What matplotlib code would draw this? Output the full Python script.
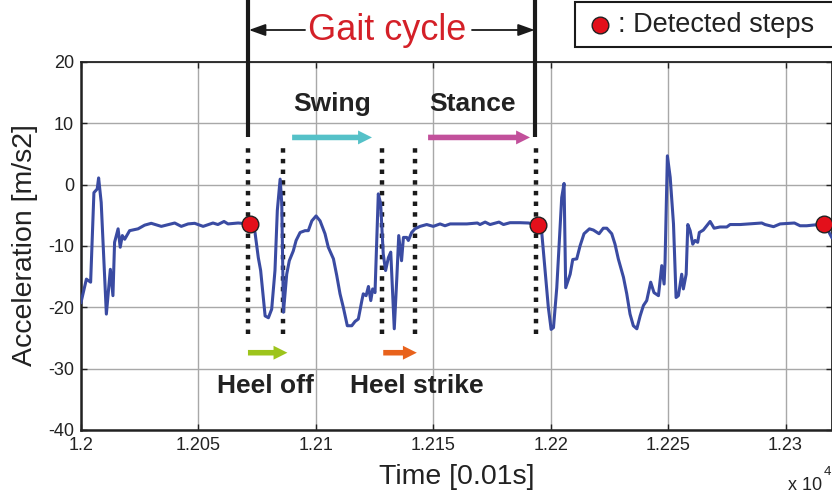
import matplotlib
matplotlib.use('Agg')
import matplotlib.pyplot as plt
from matplotlib.lines import Line2D
from matplotlib.patches import Rectangle

plt.rcParams['font.family'] = ['Liberation Sans', 'DejaVu Sans']
plt.rcParams['axes.unicode_minus'] = False

# acceleration trace (time in 0.01 s)
time = [12000.0, 12002.3, 12004.1, 12005.5, 12006.9, 12007.5, 12008.6, 12010.8, 12012.5, 12013.6,
        12014.3, 12015.8, 12016.7, 12017.6, 12018.6, 12020.7, 12024.3, 12027.1, 12029.9, 12034.2,
        12039.9, 12042.7, 12045.6, 12048.4, 12052.0, 12056.2, 12058.3, 12060.9, 12062.6, 12066.9,
        12071.5, 12074.1, 12075.5, 12076.5, 12078.4, 12079.8, 12081.2, 12082.6, 12083.6, 12084.8,
        12085.5, 12086.2, 12087.6, 12088.7, 12090.4, 12091.6, 12093.3, 12095.4, 12096.8, 12098.3,
        12100.1, 12101.8, 12103.9, 12105.3, 12107.5, 12108.9, 12110.3, 12111.7, 12113.4, 12115.3,
        12116.7, 12118.1, 12119.6, 12120.2, 12121.4, 12122.4, 12123.4, 12124.2, 12125.2, 12126.6,
        12127.6, 12128.7, 12129.7, 12130.9, 12131.9, 12133.4, 12134.5, 12135.3, 12136.5, 12137.3,
        12138.7, 12139.4, 12140.8, 12142.2, 12144.4, 12147.2, 12150.0, 12152.9, 12155.0, 12157.2,
        12164.3, 12168.8, 12169.9, 12172.1, 12174.2, 12178.0, 12179.9, 12182.7, 12187.0, 12190.5,
        12194.5, 12196.2, 12197.6, 12199.0, 12200.2, 12201.2, 12202.6, 12204.0, 12204.7, 12205.7,
        12206.4, 12208.3, 12209.4, 12211.1, 12212.5, 12214.2, 12216.5, 12218.2, 12220.6, 12222.4,
        12223.9, 12226.0, 12227.4, 12228.8, 12231.0, 12232.4, 12233.8, 12235.2, 12236.7, 12238.1,
        12239.5, 12240.9, 12242.6, 12244.0, 12245.9, 12247.3, 12248.3, 12248.7, 12249.7, 12250.9,
        12252.3, 12253.4, 12254.4, 12255.8, 12256.5, 12257.7, 12258.4, 12259.4, 12260.5, 12261.5,
        12262.6, 12263.3, 12265.0, 12267.9, 12269.6, 12272.1, 12275.0, 12276.4, 12280.7, 12289.9,
        12291.3, 12294.9, 12297.7, 12303.8, 12306.2, 12309.0, 12316.6, 12319.7]
acc = [-19.2, -15.4, -15.9, -1.3, -0.7, 1.1, -2.9, -21.1, -13.8, -18.1,
       -9.4, -7.2, -10.2, -8.3, -8.9, -7.5, -7.2, -6.6, -6.3, -6.8,
       -6.25, -6.8, -6.4, -6.3, -6.8, -6.25, -6.5, -6.0, -6.4, -6.25,
       -6.4, -7.8, -11.9, -14.0, -21.4, -21.7, -20.3, -14.0, -4.2, 0.9,
       -3.1, -20.8, -14.6, -12.4, -10.8, -9.1, -7.8, -7.5, -7.5, -5.9,
       -5.1, -5.9, -8.0, -10.2, -12.1, -14.8, -17.8, -20.0, -23.0, -23.0,
       -22.3, -21.9, -18.9, -17.8, -18.1, -16.6, -18.9, -17.0, -17.6, -1.5,
       -3.1, -11.3, -14.0, -11.9, -11.0, -23.5, -15.1, -8.3, -12.4, -8.6,
       -8.6, -9.1, -7.8, -7.2, -6.8, -6.5, -6.8, -6.4, -6.7, -6.4,
       -6.4, -6.25, -6.5, -6.1, -6.5, -6.1, -6.5, -6.2, -6.2, -6.25,
       -6.5, -7.8, -14.0, -20.0, -23.6, -23.3, -16.8, -7.0, -2.1, 0.2,
       -16.8, -14.6, -12.2, -12.1, -10.0, -8.0, -7.2, -7.4, -8.0, -7.1,
       -7.1, -8.0, -9.7, -12.1, -15.1, -17.8, -21.1, -23.0, -23.5, -21.4,
       -19.7, -18.9, -15.9, -17.6, -18.1, -13.2, -16.2, -12.7, 4.7, 1.2,
       -6.4, -18.4, -18.1, -14.6, -17.0, -14.6, -6.5, -7.5, -9.7, -9.1,
       -9.4, -7.8, -7.4, -6.0, -7.1, -6.9, -6.9, -6.5, -6.5, -6.25,
       -6.5, -6.85, -6.4, -6.25, -6.7, -6.7, -6.4, -8.6]

# detected steps
step_time = [12072.0, 12194.5, 12316.6]
step_acc = [-6.4, -6.5, -6.4]

# phase boundaries (dotted) and gait cycle limits
phase_marks = [12071.1, 12086.2, 12128.2, 12142.4, 12193.8]
gait_start, gait_end = 12071.1, 12193.5

phases = ['Swing', 'Stance', 'Heel off', 'Heel strike']
phase_colors = ['#55c1c8', '#c2509b', '#9dc41c', '#e8621c']
arrow_x0 = [12089.9, 12147.8, 12071.1, 12128.7]
arrow_x1 = [12123.9, 12191.2, 12087.9, 12143.0]
arrow_y = [7.7, 7.7, -27.4, -27.4]
label_x = [12106.9, 12166.9, 12078.5, 12143.0]
label_y = [13.2, 13.2, -32.8, -32.8]

xticks = [12000, 12050, 12100, 12150, 12200, 12250, 12300]
xtick_labels = ['1.2', '1.205', '1.21', '1.215', '1.22', '1.225', '1.23']
yticks = [-40, -30, -20, -10, 0, 10, 20]

fig = plt.figure(figsize=(8.32, 5), dpi=100)
ax = fig.add_axes([81 / 832, 70 / 500, 751 / 832, 368 / 500])

ax.plot(time, acc, color='#3a4ba2', linewidth=2.2, zorder=3)

for x in phase_marks:
    ax.plot([x, x], [-24.4, 6.9], color='#1a1a1a', linewidth=3.2,
            linestyle=(0, (1, 1.4)), zorder=2)

for x in [gait_start, gait_end]:
    ax.plot([x, x], [7.8, 31], color='#1a1a1a', linewidth=3.0,
            clip_on=False, zorder=4, solid_capstyle='butt')

ax.plot(step_time, step_acc, 'o', markersize=12, markerfacecolor='#e3101b',
        markeredgecolor='#222222', markeredgewidth=1.0, zorder=5, clip_on=False)

for name, c, x0, x1, ya, lx, ly in zip(phases, phase_colors, arrow_x0, arrow_x1,
                                        arrow_y, label_x, label_y):
    ax.annotate('', xy=(x1, ya), xytext=(x0, ya),
                arrowprops=dict(arrowstyle='simple,head_length=0.5,head_width=0.5,tail_width=0.2',
                                fc=c, ec=c, lw=0, mutation_scale=20, shrinkA=0, shrinkB=0),
                zorder=4)
    ax.text(lx, ly, name, fontsize=19, fontweight='bold', color='#222222',
            ha='center', va='center', zorder=4)

# gait cycle span above the axes
gait_y = 1 - 30 / 500
for x_from, x_to in [(12095.4, gait_start + 0.4), (12166.5, gait_end - 0.3)]:
    ax.annotate('', xy=(x_to, gait_y), xytext=(x_from, gait_y),
                xycoords=('data', 'figure fraction'), textcoords=('data', 'figure fraction'),
                arrowprops=dict(arrowstyle='-|>,head_length=0.5,head_width=0.18',
                                color='#1a1a1a', lw=1.3, mutation_scale=20,
                                shrinkA=0, shrinkB=0))
ax.annotate('Gait cycle', xy=(12130.5, 1 - 31 / 500), xycoords=('data', 'figure fraction'),
            ha='center', va='center', fontsize=26, color='#d42028')

ax.set_xlim(12000, 12319.8)
ax.set_ylim(-40, 20)
ax.set_xticks(xticks)
ax.set_xticklabels(xtick_labels)
ax.set_yticks(yticks)
ax.tick_params(direction='in', top=True, right=True, length=4, width=1,
               labelsize=13, colors='#222222', pad=5)
ax.grid(True, color='#a8a8a8', linewidth=1.0)
ax.set_axisbelow(True)
for side in ['left', 'bottom']:
    ax.spines[side].set_linewidth(1.8)
    ax.spines[side].set_color('#222222')
for side in ['top', 'right']:
    ax.spines[side].set_linewidth(1.3)
    ax.spines[side].set_color('#222222')

fig.text(456.5 / 832, 1 - 477 / 500, 'Time [0.01s]', fontsize=20.5, color='#222222',
         ha='center', va='center')
fig.text(25 / 832, 1 - 245 / 500, 'Acceleration [m/s2]', fontsize=20.5, color='#222222',
         rotation=90, ha='center', va='center')
fig.text(788 / 832, 1 - 486 / 500, 'x 10', fontsize=13, color='#222222', ha='left', va='center')
fig.text(824 / 832, 1 - 472 / 500, '4', fontsize=9.5, color='#222222', ha='left', va='center')

# step marker key in the top right corner
fig.add_artist(Rectangle((575 / 832, 1 - 47 / 500), 0.4, 45 / 500, transform=fig.transFigure,
                         facecolor='white', edgecolor='#1a1a1a', linewidth=1.5))
fig.add_artist(Line2D([600 / 832], [1 - 25 / 500], marker='o', markersize=12,
                      markerfacecolor='#e3101b', markeredgecolor='#222222',
                      markeredgewidth=1.0, transform=fig.transFigure))
fig.text(618 / 832, 1 - 25 / 500, ': Detected steps', fontsize=19.5, color='#222222',
         ha='left', va='center')

fig.savefig('out.png', dpi=100)
